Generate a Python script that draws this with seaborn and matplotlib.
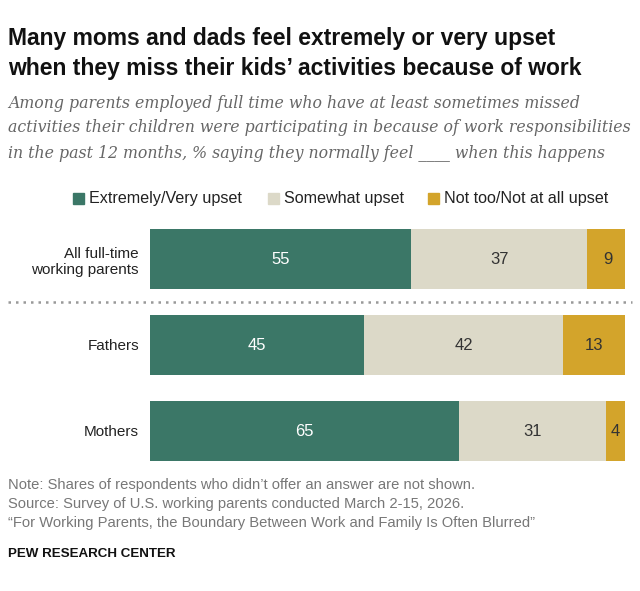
import matplotlib
matplotlib.use("Agg")
import matplotlib.pyplot as plt
import seaborn as sns
import pandas as pd
import numpy as np

categories = ["All full-time\nworking parents", "Fathers", "Mothers"]
series = ["Extremely/Very upset", "Somewhat upset", "Not too/Not at all upset"]
very = [55, 45, 65]
somewhat = [37, 42, 31]
nottoo = [9, 13, 4]
colors = ["#3b7767", "#dcd9c8", "#d3a42b"]
text_colors = ["white", "#333333", "#333333"]

sns.set_theme(style="white")
plt.rcParams['font.family'] = ['Liberation Sans', 'DejaVu Sans']

fig = plt.figure(figsize=(6.4, 5.91), dpi=100)
ax = fig.add_axes([150/640, 1-474/591, 475/640, 258/591])

vals = [very, somewhat, nottoo]
cum = np.cumsum(np.array(vals), axis=0)
for i in range(2, -1, -1):
    df = pd.DataFrame({"cat": categories, "v": cum[i]})
    sns.barplot(data=df, x="v", y="cat", color=colors[i], width=0.7, ax=ax,
                orient="h", saturation=1, linewidth=0)
for i in range(3):
    for j in range(3):
        start = cum[i][j] - vals[i][j]
        ax.text(start + vals[i][j]/2, j, str(vals[i][j]), ha="center", va="center",
                fontsize=12, color=text_colors[i])

ax.set_xlim(0, 100)
ax.set_ylim(2.5, -0.5)
ax.set_xlabel(""); ax.set_ylabel("")
ax.set_xticks([])
ax.tick_params(axis="y", length=0, labelsize=11, labelcolor="#222222", pad=8)
for lab in ax.get_yticklabels():
    lab.set_multialignment("right")
sns.despine(ax=ax, left=True, bottom=True)

fig.add_artist(plt.Line2D([8/640, 632/640], [1-302/591]*2, color="#999999",
                          linestyle=(0, (1, 2)), linewidth=1.8))

fig.text(8/640, 1-38/591, "Many moms and dads feel extremely or very upset", fontsize=16.5,
         fontweight="bold", va="center", color="#111111")
fig.text(8/640, 1-68/591, "when they miss their kids\u2019 activities because of work", fontsize=16.5,
         fontweight="bold", va="center", color="#111111")
sub = ["Among parents employed full time who have at least sometimes missed",
       "activities their children were participating in because of work responsibilities",
       "in the past 12 months, % saying they normally feel ____ when this happens"]
for k, s in enumerate(sub):
    fig.text(8/640, 1-(103+25*k)/591, s, fontsize=11.3, style="italic", family="DejaVu Serif",
             color="#666666", va="center")

# legend
leg_x = [73, 268, 428]
for x, lab, c in zip(leg_x, series, colors):
    fig.patches.append(plt.Rectangle((x/640, 1-204/591), 11/640, 11/591, color=c,
                                     transform=fig.transFigure))
    fig.text((x+16)/640, 1-198/591, lab, fontsize=11.6, va="center", color="#222222")

notes = ["Note: Shares of respondents who didn\u2019t offer an answer are not shown.",
         "Source: Survey of U.S. working parents conducted March 2-15, 2026.",
         "\u201cFor Working Parents, the Boundary Between Work and Family Is Often Blurred\u201d"]
for k, s in enumerate(notes):
    fig.text(8/640, 1-(485+19*k)/591, s, fontsize=10.6, color="#777777", va="center")
fig.text(8/640, 1-554/591, "PEW RESEARCH CENTER", fontsize=9.6, fontweight="bold",
         color="#111111", va="center")

fig.savefig("out.png", dpi=100)
